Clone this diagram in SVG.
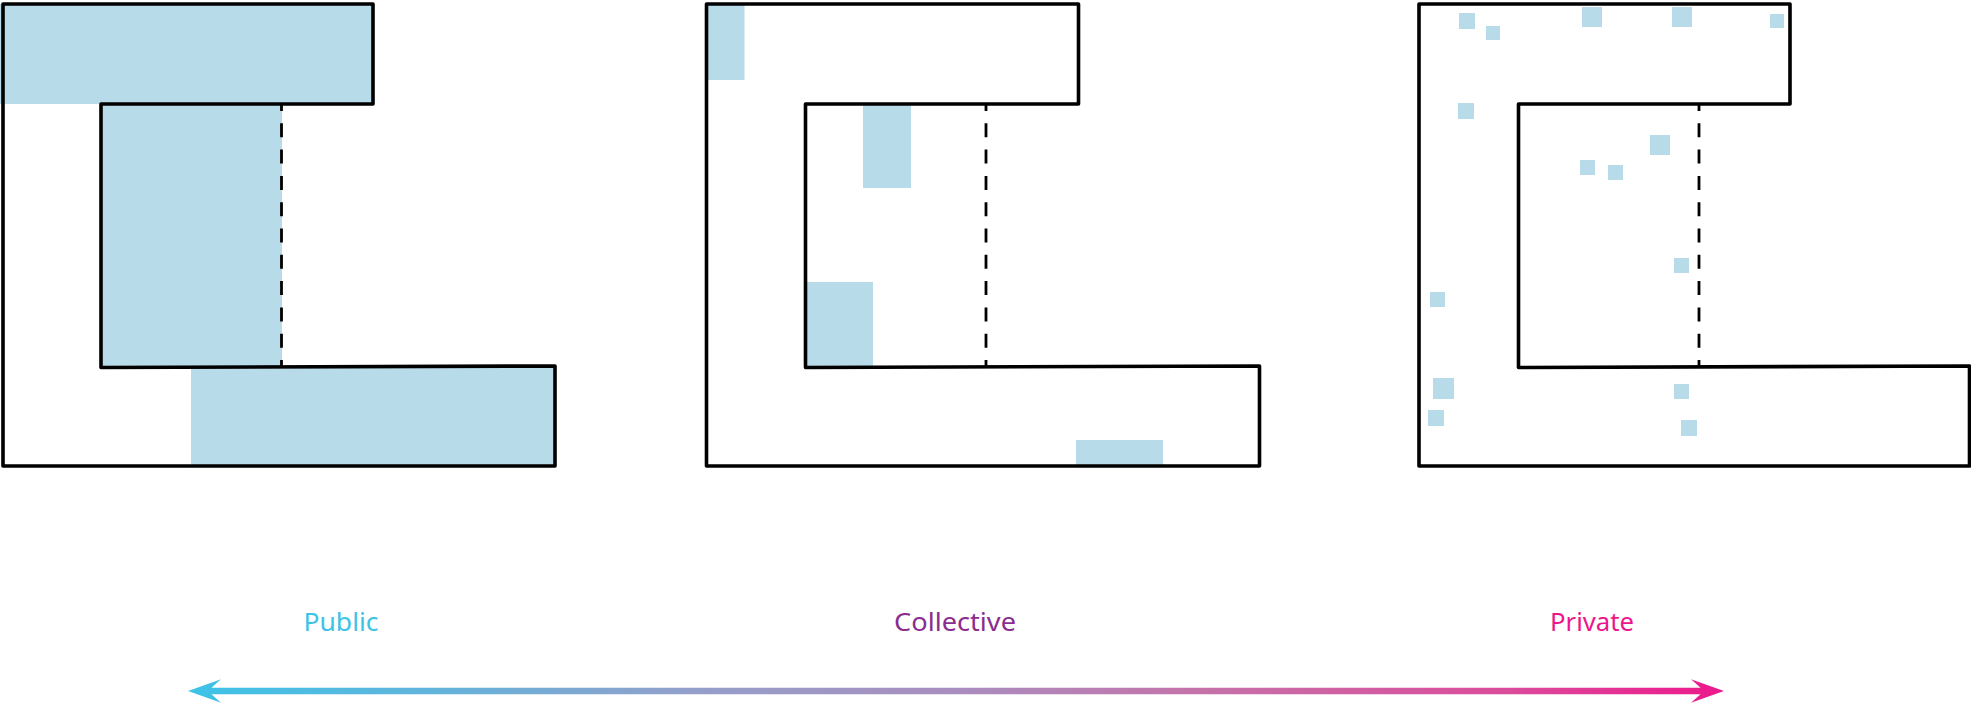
<svg xmlns="http://www.w3.org/2000/svg" width="1971" height="706" viewBox="0 0 1971 706">
  <defs>
    <linearGradient id="grad" gradientUnits="userSpaceOnUse" x1="188" y1="0" x2="1724" y2="0">
      <stop offset="0" stop-color="#3cc3e6"/>
      <stop offset="0.16" stop-color="#62b3db"/>
      <stop offset="0.33" stop-color="#949fca"/>
      <stop offset="0.5" stop-color="#a98dbf"/>
      <stop offset="0.66" stop-color="#c572a9"/>
      <stop offset="0.86" stop-color="#db4b9b"/>
      <stop offset="1" stop-color="#ec188c"/>
    </linearGradient>
  </defs>
  <style>
    .zone { fill: #b8dbea; stroke: none; }
    .wall { fill: none; stroke: #000; stroke-width: 3.6; stroke-linejoin: round; stroke-linecap: round; }
    .divider { fill: none; stroke: #000; stroke-width: 2.8; stroke-dasharray: 14 12.3; stroke-dashoffset: 7; }
    .label { font-family: "Noto Sans", "Open Sans", sans-serif; font-size: 25px; text-anchor: middle; }
  </style>

  <g id="panel-public">
    <rect class="zone" x="0" y="4" width="373" height="100"/>
    <rect class="zone" x="101" y="104" width="181" height="263"/>
    <rect class="zone" x="191" y="367" width="364" height="99"/>
    <path class="wall" d="M3,4 L373,4 L373,104 L101,104 L101,367.5 L555,366 L555,466 L3,466 Z"/>
    <line class="divider" x1="281.5" y1="104" x2="281.5" y2="367"/>
  </g>

  <g id="panel-collective">
    <rect class="zone" x="706" y="4" width="38.5" height="76"/>
    <rect class="zone" x="863" y="104" width="48" height="84"/>
    <rect class="zone" x="805.5" y="282" width="67.5" height="85"/>
    <rect class="zone" x="1076" y="440" width="87" height="26"/>
    <path class="wall" d="M706.5,4 L1078.5,4 L1078.5,104 L805.5,104 L805.5,367.5 L1259.5,366 L1259.5,466 L706.5,466 Z"/>
    <line class="divider" x1="986" y1="104" x2="986" y2="367"/>
  </g>

  <g id="panel-private">
    <rect class="zone" x="1459" y="13" width="16" height="16"/>
    <rect class="zone" x="1486" y="26" width="14" height="14"/>
    <rect class="zone" x="1582" y="7" width="20" height="20"/>
    <rect class="zone" x="1672" y="7" width="20" height="20"/>
    <rect class="zone" x="1770" y="14" width="14" height="14"/>
    <rect class="zone" x="1458" y="103" width="16" height="16"/>
    <rect class="zone" x="1650" y="135" width="20" height="20"/>
    <rect class="zone" x="1580" y="160" width="15" height="15"/>
    <rect class="zone" x="1608" y="165" width="15" height="15"/>
    <rect class="zone" x="1674" y="258" width="15" height="15"/>
    <rect class="zone" x="1430" y="292" width="15" height="15"/>
    <rect class="zone" x="1433" y="378" width="21" height="21"/>
    <rect class="zone" x="1674" y="384" width="15" height="15"/>
    <rect class="zone" x="1428" y="410" width="16" height="16"/>
    <rect class="zone" x="1681" y="420" width="16" height="16"/>
    <path class="wall" d="M1419,4 L1790,4 L1790,104 L1518.5,104 L1518.5,367.5 L1969.5,366 L1969.5,466 L1419,466 Z"/>
    <line class="divider" x1="1699" y1="104" x2="1699" y2="367"/>
  </g>

  <g id="labels">
    <text id="label-public" class="label" x="341" y="631" fill="#3cc3e6" textLength="75" lengthAdjust="spacingAndGlyphs">Public</text>
    <text id="label-collective" class="label" x="955" y="631" fill="#8b2c8f" textLength="122" lengthAdjust="spacingAndGlyphs">Collective</text>
    <text id="label-private" class="label" x="1592" y="631" fill="#ec168c" textLength="84" lengthAdjust="spacingAndGlyphs">Private</text>
  </g>

  <g id="connectors">
    <path d="M188,691 L221,679.3 L211.5,687.7 L1700.5,687.7 L1691,679.3 L1724,691 L1691,702.7 L1700.5,694.3 L211.5,694.3 L221,702.7 Z" fill="url(#grad)"/>
  </g>
</svg>
